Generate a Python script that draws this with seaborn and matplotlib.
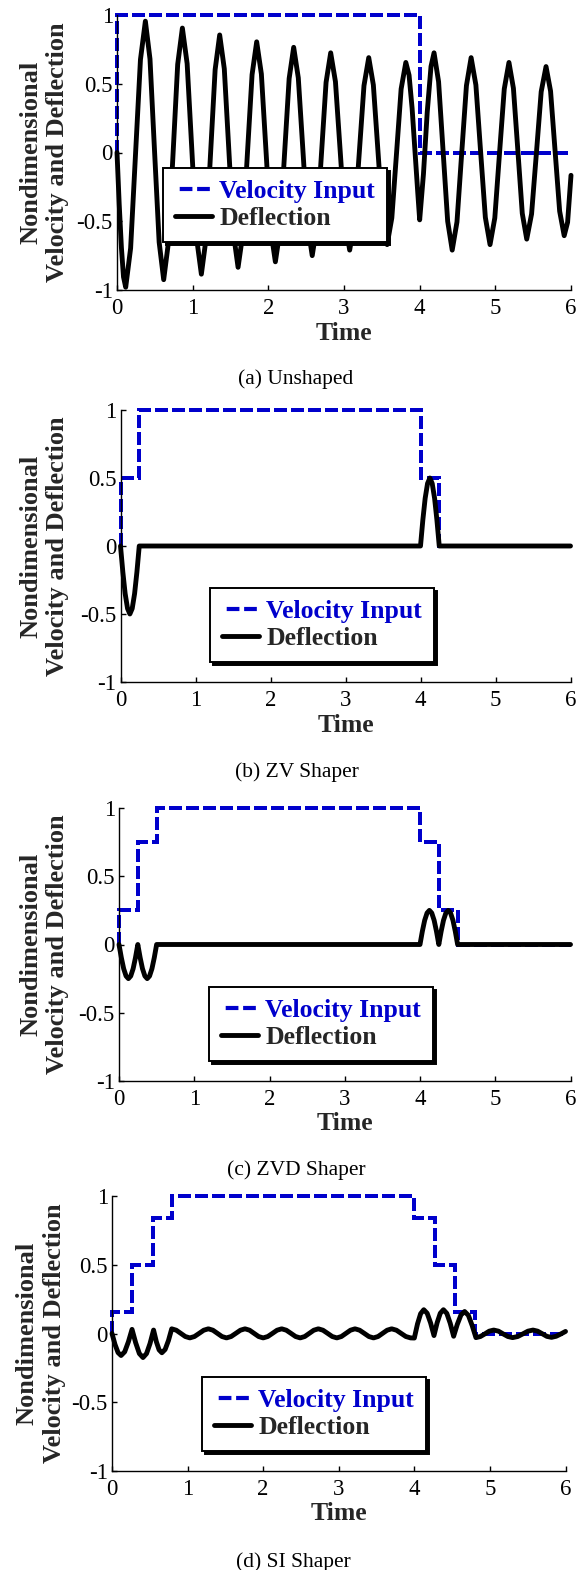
import matplotlib
matplotlib.use("Agg")
import matplotlib.pyplot as plt
import seaborn as sns

# ---------------------------------------------------------------------------
# Data: velocity command (staircase) and residual deflection for each shaper
# ---------------------------------------------------------------------------

# (a) Unshaped
vel_a_t = [0, 0, 4.0, 4.0, 6.0]
vel_a_v = [0, 1, 1, 0, 0]
defl_a_t = [0.000, 0.029, 0.058, 0.086, 0.115,
            0.180, 0.245, 0.310, 0.375,
            0.436, 0.496, 0.557, 0.617,
            0.679, 0.741, 0.802, 0.864,
            0.927, 0.990, 1.052, 1.115,
            1.176, 1.236, 1.297, 1.357,
            1.418, 1.479, 1.539, 1.600,
            1.662, 1.723, 1.785, 1.846,
            1.908, 1.970, 2.031, 2.093,
            2.154, 2.214, 2.275, 2.335,
            2.396, 2.458, 2.519, 2.580,
            2.641, 2.702, 2.763, 2.824,
            2.887, 2.950, 3.012, 3.075,
            3.138, 3.201, 3.264, 3.327,
            3.388, 3.449, 3.509, 3.570,
            3.632, 3.694, 3.755, 3.817,
            3.860, 3.900, 3.950, 3.975, 4.000,
            4.050, 4.100, 4.150, 4.190,
            4.250, 4.310, 4.370, 4.430,
            4.493, 4.555, 4.618, 4.680,
            4.743, 4.805, 4.868, 4.930,
            4.993, 5.055, 5.118, 5.180,
            5.239, 5.298, 5.356, 5.415,
            5.479, 5.543, 5.606, 5.670,
            5.730, 5.790, 5.850, 5.910,
            5.955, 6.000]
defl_a_y = [0.000, -0.375, -0.690, -0.905, -0.980,
            -0.696, -0.010, 0.676, 0.955,
            0.680, 0.012, -0.652, -0.925,
            -0.657, -0.008, 0.641, 0.905,
            0.646, 0.010, -0.624, -0.885,
            -0.630, -0.013, 0.603, 0.855,
            0.609, 0.008, -0.590, -0.835,
            -0.595, -0.013, 0.566, 0.805,
            0.571, 0.004, -0.561, -0.795,
            -0.567, -0.013, 0.538, 0.765,
            0.543, 0.007, -0.528, -0.750,
            -0.535, -0.012, 0.510, 0.725,
            0.515, 0.007, -0.500, -0.710,
            -0.505, -0.009, 0.486, 0.690,
            0.491, 0.009, -0.472, -0.670,
            -0.476, -0.007, 0.462, 0.655,
            0.562, 0.322, -0.088, -0.293, -0.490,
            -0.157, 0.294, 0.626, 0.725,
            0.515, 0.007, -0.500, -0.710,
            -0.505, -0.009, 0.486, 0.690,
            0.491, 0.009, -0.472, -0.670,
            -0.476, -0.007, 0.462, 0.655,
            0.467, 0.012, -0.443, -0.630,
            -0.447, -0.003, 0.442, 0.625,
            0.446, 0.009, -0.427, -0.605,
            -0.508, -0.166]

# (b) ZV shaper
vel_b_t = [0, 0, 0.25, 0.25, 4.0, 4.0, 4.25, 4.25, 6.0]
vel_b_v = [0, 0.5, 0.5, 1, 1, 0.5, 0.5, 0, 0]
defl_b_t = [0.000, 0.031, 0.062, 0.094, 0.125, 0.156, 0.188, 0.219, 0.250,
            4.000, 4.031, 4.062, 4.094, 4.125, 4.156, 4.188, 4.219, 4.250,
            6.000]
defl_b_y = [0.000, -0.190, -0.350, -0.460, -0.500, -0.460, -0.350, -0.190, 0.000,
            0.000, 0.190, 0.350, 0.460, 0.500, 0.460, 0.350, 0.190, 0.000,
            0.000]

# (c) ZVD shaper
vel_c_t = [0, 0, 0.25, 0.25, 0.5, 0.5, 4.0, 4.0, 4.25, 4.25, 4.5, 4.5, 6.0]
vel_c_v = [0, 0.25, 0.25, 0.75, 0.75, 1, 1, 0.75, 0.75, 0.25, 0.25, 0, 0]
defl_c_t = [0.000, 0.031, 0.062, 0.094, 0.125, 0.156, 0.188, 0.219, 0.250,
            0.281, 0.312, 0.344, 0.375, 0.406, 0.438, 0.469, 0.500,
            4.000, 4.031, 4.062, 4.094, 4.125, 4.156, 4.188, 4.219, 4.250,
            4.281, 4.312, 4.344, 4.375, 4.406, 4.438, 4.469, 4.500,
            6.000]
defl_c_y = [0.000, -0.096, -0.177, -0.231, -0.250, -0.231, -0.177, -0.096, 0.000,
            -0.096, -0.177, -0.231, -0.250, -0.231, -0.177, -0.096, 0.000,
            0.000, 0.096, 0.177, 0.231, 0.250, 0.231, 0.177, 0.096, 0.000,
            0.096, 0.177, 0.231, 0.250, 0.231, 0.177, 0.096, 0.000,
            0.000]

# (d) SI shaper
vel_d_t = [0, 0, 0.27, 0.27, 0.54, 0.54, 0.80, 0.80,
           4.0, 4.0, 4.27, 4.27, 4.54, 4.54, 4.80, 4.80, 6.0]
vel_d_v = [0, 0.16, 0.16, 0.50, 0.50, 0.84, 0.84, 1,
           1, 0.84, 0.84, 0.50, 0.50, 0.16, 0.16, 0, 0]
defl_d_t = [0.000, 0.040, 0.080, 0.120,
            0.168, 0.217, 0.265,
            0.313, 0.362, 0.410,
            0.457, 0.503, 0.550,
            0.587, 0.623, 0.660,
            0.703, 0.747, 0.790,
            0.850, 0.910, 0.970, 1.030,
            1.091, 1.153, 1.214, 1.275,
            1.335, 1.395, 1.455, 1.515,
            1.576, 1.638, 1.699, 1.760,
            1.820, 1.880, 1.940, 2.000,
            2.061, 2.123, 2.184, 2.245,
            2.306, 2.368, 2.429, 2.490,
            2.550, 2.610, 2.670, 2.730,
            2.791, 2.853, 2.914, 2.975,
            3.035, 3.095, 3.155, 3.215,
            3.276, 3.338, 3.399, 3.460,
            3.520, 3.580, 3.640, 3.700,
            3.763, 3.825, 3.888, 3.950,
            4.000, 4.042, 4.083, 4.125,
            4.170, 4.215, 4.260,
            4.302, 4.343, 4.385,
            4.430, 4.475, 4.520,
            4.568, 4.617, 4.665,
            4.715, 4.765, 4.815,
            4.874, 4.933, 4.991, 5.050,
            5.113, 5.175, 5.238, 5.300,
            5.368, 5.435, 5.503, 5.570,
            5.631, 5.693, 5.754, 5.815,
            5.877, 5.940, 6.000]
defl_d_y = [0.000, -0.080, -0.139, -0.160,
            -0.133, -0.060, 0.030,
            -0.067, -0.146, -0.175,
            -0.146, -0.073, 0.025,
            -0.060, -0.119, -0.140,
            -0.116, -0.051, 0.034,
            0.024, 0.001, -0.022, -0.032,
            -0.022, 0.001, 0.024, 0.034,
            0.024, 0.001, -0.022, -0.032,
            -0.022, 0.001, 0.024, 0.034,
            0.024, 0.001, -0.022, -0.032,
            -0.022, 0.001, 0.024, 0.034,
            0.024, 0.001, -0.022, -0.032,
            -0.022, 0.001, 0.024, 0.034,
            0.024, 0.001, -0.022, -0.032,
            -0.022, 0.001, 0.024, 0.034,
            0.024, 0.001, -0.022, -0.032,
            -0.022, 0.001, 0.024, 0.034,
            0.024, 0.001, -0.022, -0.032,
            -0.033, 0.070, 0.144, 0.173,
            0.147, 0.077, -0.015,
            0.079, 0.147, 0.173,
            0.146, 0.074, -0.020,
            0.066, 0.135, 0.160,
            0.132, 0.058, -0.030,
            -0.022, -0.003, 0.017, 0.025,
            0.017, -0.003, -0.022, -0.030,
            -0.022, -0.003, 0.017, 0.025,
            0.017, -0.002, -0.021, -0.028,
            -0.020, -0.003, 0.015]

captions = ["(a) Unshaped", "(b) ZV Shaper", "(c) ZVD Shaper", "(d) SI Shaper"]
series_labels = ["Velocity Input", "Deflection"]
x_ticks = [0, 1, 2, 3, 4, 5, 6]
y_ticks = [-1, -0.5, 0, 0.5, 1]
y_tick_labels = ["-1", "-0.5", "0", "0.5", "1"]

# ---------------------------------------------------------------------------
# Styling
# ---------------------------------------------------------------------------
sns.set_style("ticks")
plt.rcParams["font.family"] = ["Liberation Serif", "DejaVu Serif"]
plt.rcParams["axes.unicode_minus"] = False

BLUE = "#0000cc"
LW_VEL = 3.0
LW_DEFL = 3.5
DASH = (0, (3.05, 1.13))
DASH_HANDLE = (3.05, (3.05, 1.13))
W, H = 579, 1570

fig = plt.figure(figsize=(W / 100, H / 100), dpi=100)

# pixel layout of each panel: left, right, top, bottom of the plotting area
layout = [
    dict(l=117.0, r=571.0, t=15.0, b=290.0, leg=(163.0, 168.0), ylab=69.0, cap=(296, 379)),
    dict(l=120.5, r=570.5, t=410.0, b=682.0, leg=(210.0, 588.0), ylab=69.0, cap=(297, 772)),
    dict(l=119.0, r=570.5, t=808.0, b=1081.0, leg=(209.0, 987.0), ylab=69.0, cap=(296, 1170)),
    dict(l=112.0, r=565.5, t=1196.0, b=1471.0, leg=(202.0, 1377.0), ylab=65.5, cap=(293, 1562)),
]
data = [
    (vel_a_t, vel_a_v, defl_a_t, defl_a_y),
    (vel_b_t, vel_b_v, defl_b_t, defl_b_y),
    (vel_c_t, vel_c_v, defl_c_t, defl_c_y),
    (vel_d_t, vel_d_v, defl_d_t, defl_d_y),
]

for lay, (vt, vv, dt, dy), cap_text in zip(layout, data, captions):
    w_px = lay["r"] - lay["l"]
    h_px = lay["b"] - lay["t"]
    ax = fig.add_axes([lay["l"] / W, 1 - lay["b"] / H, w_px / W, h_px / H])

    # the staircase is axis-aligned, so it is drawn without antialiasing to
    # keep its edges fully hidden where the deflection trace lies on top
    sns.lineplot(x=vt, y=vv, ax=ax, color=BLUE, linewidth=LW_VEL, linestyle=DASH,
                 estimator=None, sort=False, label=series_labels[0],
                 clip_on=False, zorder=2, antialiased=False)
    sns.lineplot(x=dt, y=dy, ax=ax, color="black", linewidth=LW_DEFL,
                 estimator=None, sort=False, label=series_labels[1],
                 clip_on=False, zorder=3, solid_joinstyle="round")

    ax.set_xlim(0, 6)
    ax.set_ylim(-1, 1)
    ax.set_xticks(x_ticks)
    ax.set_xticklabels([str(v) for v in x_ticks])
    ax.set_yticks(y_ticks)
    ax.set_yticklabels(y_tick_labels)
    sns.despine(ax=ax)
    for s in ("left", "bottom"):
        ax.spines[s].set_linewidth(1.0)
        ax.spines[s].set_color("black")
    ax.tick_params(axis="both", direction="in", length=3.5, width=1.0,
                   labelsize=16.5, colors="black")
    ax.tick_params(axis="x", pad=6.0)
    ax.tick_params(axis="y", pad=3)

    ax.set_xlabel("Time", fontsize=18.5, fontweight="bold")
    ax.xaxis.set_label_coords(0.5, -31.5 / h_px)

    ax.set_ylabel("Nondimensional\nVelocity and Deflection",
                  fontsize=19, fontweight="bold", linespacing=1.22)
    ax.yaxis.set_label_coords((lay["ylab"] - lay["l"]) / w_px, 0.5)

    handles, labels = ax.get_legend_handles_labels()
    leg = ax.legend(handles, labels, loc="upper left",
                    bbox_to_anchor=((lay["leg"][0] - lay["l"]) / w_px,
                                    1 - (lay["leg"][1] - lay["t"]) / h_px),
                    borderaxespad=0, frameon=True, fancybox=False,
                    framealpha=1, edgecolor="black",
                    shadow={"ox": 2.2, "oy": -2.2, "facecolor": "black",
                            "edgecolor": "black", "alpha": 1.0},
                    prop={"weight": "bold", "size": 18.5},
                    handlelength=1.44, handletextpad=0.3,
                    borderpad=0.45, labelspacing=0.18)
    leg.get_frame().set_linewidth(1.4)
    leg.get_texts()[0].set_color(BLUE)
    leg.get_lines()[0].set_linestyle(DASH_HANDLE)

    cx, cy = lay["cap"]
    fig.text(cx / W, 1 - cy / H, cap_text, ha="center", va="center",
             fontsize=15.5, color="black")

fig.savefig("out.png", dpi=100)
